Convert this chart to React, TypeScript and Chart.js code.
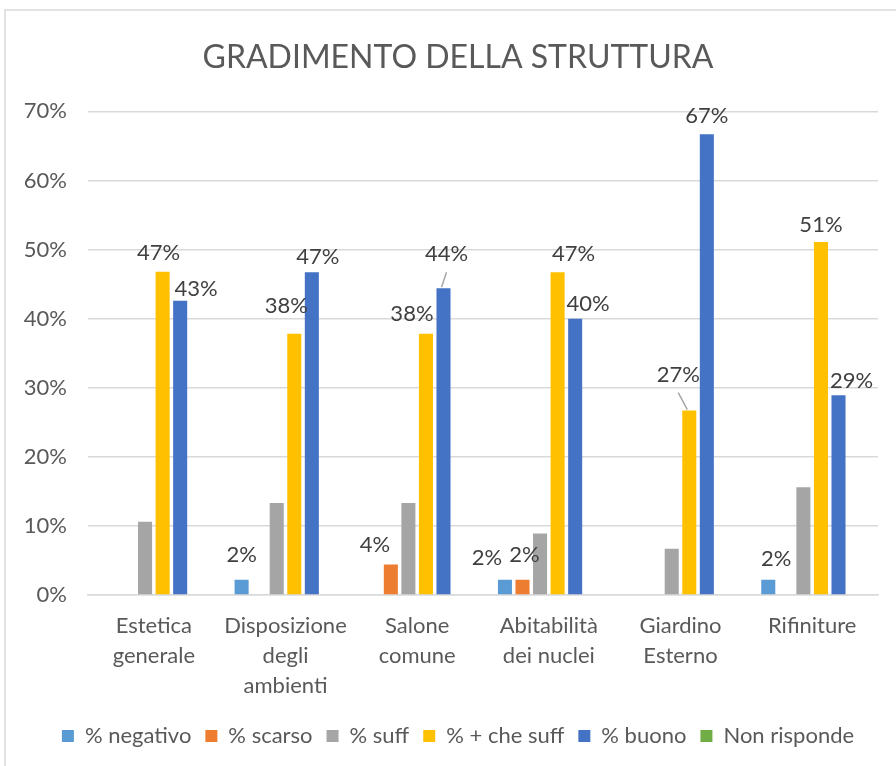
import React, { useEffect, useRef } from "react";
import { Chart, registerables } from "chart.js";

Chart.register(...registerables);

const titleText = "GRADIMENTO DELLA STRUTTURA";
const categories = [
  ["Estetica", "generale"],
  ["Disposizione", "degli", "ambienti"],
  ["Salone", "comune"],
  ["Abitabilità", "dei nuclei"],
  ["Giardino", "Esterno"],
  ["Rifiniture"],
];
const seriesNames = ["% negativo", "% scarso", "% suff", "% + che suff", "% buono", "Non risponde"];
const negativo = [0, 2.2, 0, 2.2, 0, 2.2];
const scarso = [0, 0, 4.4, 2.2, 0, 0];
const suff = [10.6, 13.3, 13.3, 8.9, 6.7, 15.6];
const piuCheSuff = [46.8, 37.8, 37.8, 46.7, 26.7, 51.1];
const buono = [42.6, 46.7, 44.4, 40.0, 66.7, 28.9];
const nonRisponde = [0, 0, 0, 0, 0, 0];
const yTicks = [0, 10, 20, 30, 40, 50, 60, 70];

const colors = ["#5B9BD5", "#ED7D31", "#A5A5A5", "#FFC000", "#4472C4", "#70AD47"];
const labelledSeries = [0, 1, 3, 4, 5];

// label placement styling (relative to bar top centre): [dx, dy, leader]
const labelOffsets: Record<string, [number, number, boolean?]> = {
  "3-0": [-4, -19], "4-0": [16, -12],
  "0-1": [0, -25], "3-1": [-8, -28], "4-1": [6, -15],
  "1-2": [-16, -20], "3-2": [-14, -20], "4-2": [3, -34, true],
  "0-3": [-18, -22], "1-3": [2, -25], "3-3": [16, -18], "4-3": [13, -15],
  "3-4": [-11, -36, true], "4-4": [0, -18],
  "0-5": [8, -21], "3-5": [0, -17], "4-5": [13, -14],
};

const FONT = "Lato, 'Liberation Sans', sans-serif";
const FS = 22;

const framePlugin = {
  id: "frame",
  beforeDraw(chart: any) {
    const ctx = chart.ctx;
    ctx.save();
    ctx.fillStyle = "#ffffff";
    ctx.fillRect(0, 0, chart.width, chart.height);
    ctx.strokeStyle = "#d9d9d9";
    ctx.lineWidth = 1.5;
    ctx.strokeRect(5, 10, chart.width + 20, chart.height + 20);
    ctx.restore();
  },
};

const labelPlugin = {
  id: "barLabels",
  afterDatasetsDraw(chart: any) {
    const ctx = chart.ctx;
    ctx.save();
    ctx.font = `${FS}px ${FONT}`;
    ctx.fillStyle = "#404040";
    ctx.textAlign = "center";
    ctx.textBaseline = "middle";
    labelledSeries.forEach((di) => {
      const meta = chart.getDatasetMeta(di);
      const data = chart.data.datasets[di].data as number[];
      meta.data.forEach((bar: any, i: number) => {
        const v = data[i];
        if (!v) return;
        const off = labelOffsets[`${di}-${i}`] || [0, -17];
        const lx = bar.x + off[0];
        const ly = bar.y + off[1];
        if (off[2]) {
          ctx.strokeStyle = "#a6a6a6";
          ctx.lineWidth = 1.5;
          ctx.beginPath();
          ctx.moveTo(lx, ly + 18);
          ctx.lineTo(bar.x - 2, bar.y - 1);
          ctx.stroke();
        }
        ctx.fillText(Math.round(v) + "%", lx, ly);
      });
    });
    ctx.restore();
  },
};

export default function App() {
  const ref = useRef<HTMLCanvasElement | null>(null);
  useEffect(() => {
    if (!ref.current) return;
    const seriesData = [negativo, scarso, suff, piuCheSuff, buono, nonRisponde];
    const chart = new Chart(ref.current, {
      type: "bar",
      data: {
        labels: categories,
        datasets: seriesNames.map((name, i) => ({
          label: name,
          data: seriesData[i],
          backgroundColor: colors[i],
          borderWidth: 0,
          categoryPercentage: 0.8,
          barPercentage: 0.8,
        })),
      },
      options: {
        animation: false,
        responsive: false,
        maintainAspectRatio: false,
        devicePixelRatio: 1,
        layout: { padding: { left: 38, right: 18, top: 0, bottom: 9 } },
        font: { family: FONT },
        plugins: {
          title: {
            display: true,
            text: titleText,
            color: "#595959",
            font: { family: FONT, size: 32, weight: "normal", lineHeight: 1.2 },
            padding: { top: 38, bottom: 35 },
          },
          legend: {
            display: true,
            position: "bottom",
            labels: {
              color: "#595959",
              font: { family: FONT, size: FS },
              boxWidth: 12,
              boxHeight: 12,
              padding: 14,
            },
          },
          tooltip: { enabled: false },
        },
        scales: {
          x: {
            grid: { display: false, drawTicks: false },
            border: { display: true, color: "#d9d9d9", width: 1.5 },
            ticks: {
              color: "#595959",
              font: { family: FONT, size: FS, lineHeight: 1.36 },
              padding: 16,
              maxRotation: 0,
              autoSkip: false,
            },
            afterFit(scale: any) {
              scale.height = 116;
            },
          },
          y: {
            min: 0,
            max: 70,
            afterBuildTicks(scale: any) {
              scale.ticks = yTicks.map((v) => ({ value: v }));
            },
            grid: { color: "#d9d9d9", lineWidth: 1.5, drawTicks: false },
            border: { display: false },
            ticks: {
              color: "#595959",
              font: { family: FONT, size: FS },
              padding: 21,
              callback: (v: any) => v + "%",
            },
            afterFit(scale: any) {
              scale.width = 50;
              scale._computeLabelArea = () => undefined;
            },
          },
        },
      },
      plugins: [framePlugin, labelPlugin],
    });
    return () => chart.destroy();
  }, []);
  return (
    <div style={{ position: "absolute", left: 0, top: 0, width: 896, height: 766 }}>
      <canvas ref={ref} width={896} height={766} style={{ width: 896, height: 766, display: "block" }} />
    </div>
  );
}
